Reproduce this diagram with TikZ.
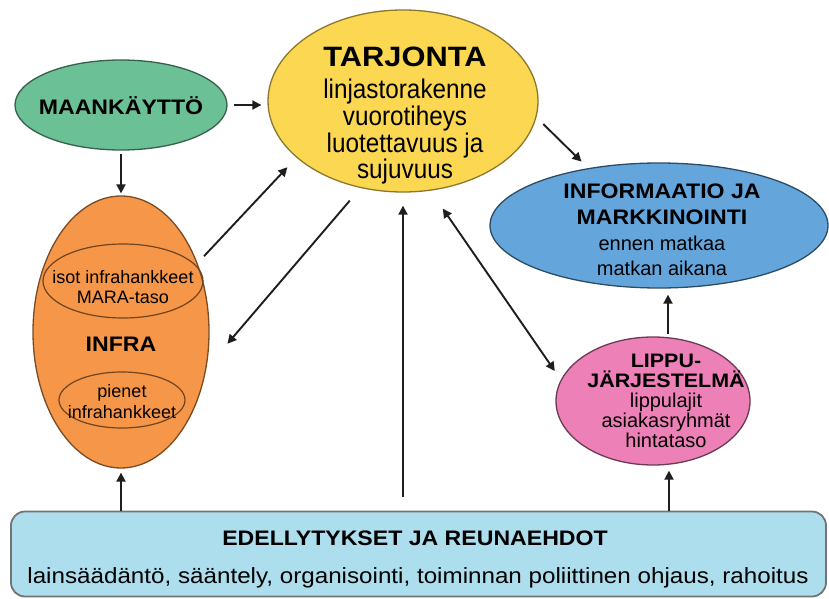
\documentclass[tikz,border=0pt]{standalone}
\usepackage{fontspec}
\setmainfont{Liberation Sans}
\newfontfamily\hf[FakeStretch=1.1]{Liberation Sans}
\newfontfamily\nf[FakeStretch=0.9]{Liberation Sans}
\usetikzlibrary{shapes.geometric,arrows.meta}
\definecolor{cgreen}{RGB}{108,192,150}
\definecolor{corange}{RGB}{246,150,72}
\definecolor{cyellow}{RGB}{252,216,82}
\definecolor{cblue}{RGB}{100,166,220}
\definecolor{cpink}{RGB}{238,128,184}
\definecolor{cbox}{RGB}{172,222,238}
\definecolor{cline}{RGB}{30,30,30}
\begin{document}
\begin{tikzpicture}[x=1pt,y=-1pt,
  ell/.style={ellipse,inner sep=0pt,line width=1.3pt},
  inell/.style={ellipse,inner sep=0pt,line width=1.2pt,draw=corange!45!black},
  arr/.style={-{Triangle[length=9pt,width=9pt]},line width=1.9pt,draw=cline},
  darr/.style={{Triangle[length=9pt,width=9pt]}-{Triangle[length=9pt,width=9pt]},line width=1.9pt,draw=cline},
  hd/.style={inner sep=0pt,font=\hf\bfseries\fontsize{21}{25}\selectfont},
  txt/.style={inner sep=0pt,align=center}]
\useasboundingbox[fill=white] (0,0) rectangle (829,599);

% shapes
\node[ell,fill=cgreen,draw=cgreen!50!black,minimum width=212pt,minimum height=90pt] (maa) at (121,105) {};
\node[ell,fill=corange,draw=corange!50!black,minimum width=176pt,minimum height=272pt] (infra) at (121,332) {};
\node[inell,minimum width=160pt,minimum height=74pt] (isot) at (123,281) {};
\node[inell,minimum width=126pt,minimum height=56pt] (pienet) at (122,400) {};
\node[ell,fill=cyellow,draw=cyellow!55!black,minimum width=270pt,minimum height=182pt] (tar) at (403,101) {};
\node[ell,fill=cblue,draw=cblue!45!black,minimum width=338pt,minimum height=125pt] (blue) at (659,225.5) {};
\node[ell,fill=cpink,draw=cpink!45!black,minimum width=194pt,minimum height=128pt] (pink) at (653,401) {};
\node[rectangle,rounded corners=14pt,fill=cbox,draw=black!55,line width=1.8pt,minimum width=815pt,minimum height=85pt,inner sep=0pt] (box) at (418.5,554) {};

% texts
\node[hd,anchor=base] (maat) at (121,114) {MAANKÄYTTÖ};
\node[hd,anchor=base] (infrat) at (121,351) {INFRA};
\node[txt,anchor=north,font=\fontsize{18}{20}\selectfont] (isott) at (123,270) {isot infrahankkeet\\MARA-taso};
\node[txt,anchor=north,font=\fontsize{18}{20.5}\selectfont] (pienett) at (122,384.5) {pienet\\infrahankkeet};
\node[txt,anchor=north,font=\nf\fontsize{27}{26.7}\selectfont] (tart) at (405,47)
  {{\hf\bfseries\fontsize{28}{30}\selectfont TARJONTA}\\[5.3pt]linjastorakenne\\vuorotiheys\\luotettavuus ja\\sujuvuus};
\node[txt,anchor=north,font=\fontsize{20}{25.7}\selectfont] (bluet) at (662,184)
  {{\hf\bfseries\fontsize{21}{25}\selectfont INFORMAATIO JA}\\{\hf\bfseries\fontsize{21}{25}\selectfont MARKKINOINTI}\\ennen matkaa\\matkan aikana};
\node[txt,anchor=north,font=\fontsize{20}{20}\selectfont] (pinkt) at (666,354)
  {{\hf\bfseries\fontsize{19.5}{20}\selectfont LIPPU-}\\{\hf\bfseries\fontsize{19.5}{20}\selectfont JÄRJESTELMÄ}\\lippulajit\\asiakasryhmät\\hintataso};
\node[hd,anchor=base] (boxt) at (415,545) {EDELLYTYKSET JA REUNAEHDOT};
\node[inner sep=0pt,anchor=base,font=\hf\fontsize{22}{24}\selectfont] (boxs) at (418,583) {lainsäädäntö, sääntely, organisointi, toiminnan poliittinen ohjaus, rahoitus};

% connectors
\draw[arr,shorten <=6pt,shorten >=6pt] (maa.east) -- (maa.east -| tar.west);
\draw[arr,shorten <=3pt,shorten >=2pt] (maa.south) -- (infra.north);
\draw[arr,shorten >=4pt] (box.north -| infra.south) -- (infra.south);
\draw[arr,shorten <=14pt,shorten >=13pt] (box.north -| tar.south) -- (tar.south);
\draw[arr,shorten >=5pt] ([xshift=16pt]pink.south |- box.north) -- ([xshift=16pt]pink.south);
\draw[arr,shorten <=2pt,shorten >=6pt] ([xshift=15pt]pink.north) -- ([xshift=15pt]pink.north |- blue.south);
\draw[darr,shorten <=21.8pt,shorten >=10.6pt] (tar.287.2) -- (pink.167.7);
\draw[arr,shorten <=9.5pt,shorten >=9.3pt] (tar.353.9) -- (blue.141.1);
\draw[arr,shorten <=9.5pt,shorten >=13.2pt] (infra.42.9) -- (tar.208.1);
\draw[arr,shorten <=16.6pt,shorten >=32.3pt] (tar.244) -- (infra.337.3);
\end{tikzpicture}
\end{document}
